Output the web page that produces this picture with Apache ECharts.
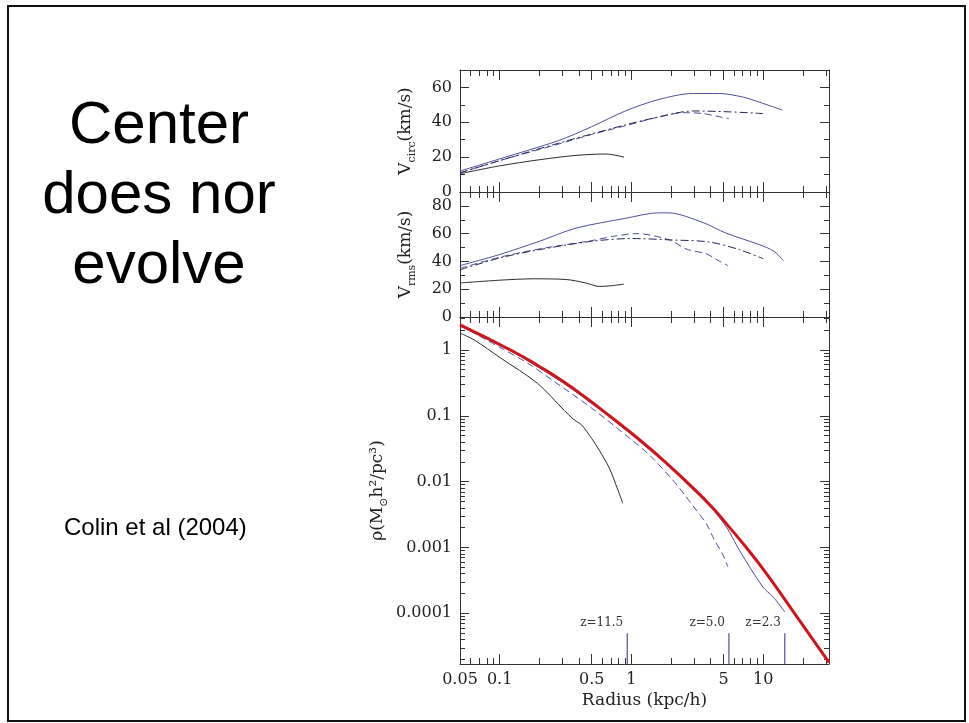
<!DOCTYPE html>
<html>
<head>
<meta charset="utf-8">
<script src="https://cdn.jsdelivr.net/npm/echarts@6/dist/echarts.min.js"></script>
<style>
  html, body { margin: 0; padding: 0; background: #fff; }
  #chart { width: 969px; height: 723px; }
</style>
</head>
<body>
<div id="chart"></div>
<script>
// ---- axes ----
const X_MIN = 0.05;
const X_MAX = 31.62;
const xLabels = [0.05, 0.1, 0.5, 1, 5, 10];
const xMinorTicks = [0.06, 0.07, 0.08, 0.09, 0.2, 0.3, 0.4, 0.6, 0.7, 0.8, 0.9,
  2, 3, 4, 6, 7, 8, 9, 20, 30];

const vcircMax = 70;
const vcircLabels = [0, 20, 40, 60];
const vcircMinor = [10, 30, 50, 70];

const vrmsMax = 90;
const vrmsLabels = [0, 20, 40, 60, 80];
const vrmsMinor = [10, 30, 50, 70, 90];

const RHO_MIN = 1.7e-5;
const RHO_MAX = 3.16;
const rhoLabels = [0.0001, 0.001, 0.01, 0.1, 1];
const rhoDecades = [1e-5, 1e-4, 1e-3, 1e-2, 1e-1, 1];

// ---- circular velocity (km/s) ----
const vcircR_z115 = [0.05, 0.1, 0.2, 0.38, 0.64, 0.88];
const vcirc_z115 = [10.5, 15, 18.5, 21, 21.8, 20];
const vcircR_z50 = [0.05, 0.1, 0.28, 0.5, 0.9, 1.6, 2.5, 3.5, 5.5];
const vcirc_z50 = [11, 18, 27.5, 33, 38, 43, 45.5, 45, 42];
const vcircR_dd = [0.05, 0.1, 0.28, 0.9, 1.6, 2.9, 5.5, 10];
const vcirc_dd = [11, 18, 28, 38.5, 43, 46.5, 46, 45];
const vcircR_z23 = [0.05, 0.1, 0.28, 0.5, 0.9, 1.6, 2.9, 4.7, 7, 9.4, 14];
const vcirc_z23 = [12, 19, 29.5, 37.5, 46.5, 53, 56.5, 56.5, 54.5, 51.5, 47];

// ---- rms velocity (km/s) ----
const vrmsR_z115 = [0.05, 0.1, 0.18, 0.32, 0.45, 0.57, 0.7, 0.88];
const vrms_z115 = [24.5, 26.5, 27.5, 27, 24.5, 22, 22.5, 23.7];
const vrmsR_z50 = [0.05, 0.1, 0.2, 0.5, 0.72, 1.1, 1.95, 2.6, 3.7, 4.7, 5.4];
const vrms_z50 = [35, 43, 49, 55, 58, 60, 55.5, 49, 45.5, 40, 37];
const vrmsR_dd = [0.05, 0.1, 0.2, 0.5, 1, 2, 3.9, 6.6, 10];
const vrms_dd = [34, 42.5, 48.5, 54.5, 56.5, 55.5, 54, 48.5, 42];
const vrmsR_z23 = [0.05, 0.1, 0.2, 0.38, 0.9, 1.6, 1.9, 3.5, 5.2, 9.4, 12, 14.3];
const vrms_z23 = [37, 45, 54.5, 64, 71, 75, 75, 68, 60.5, 52, 47.5, 40.5];

// ---- density (M_sun h^2 / pc^3) ----
const rhoR_z115 = [0.05, 0.064, 0.102, 0.194, 0.31, 0.36, 0.42, 0.5, 0.57, 0.68, 0.78, 0.86];
const rho_z115 = [1.8, 1.42, 0.75, 0.31, 0.12, 0.09, 0.072, 0.045, 0.03, 0.016, 0.008, 0.0047];
const rhoR_z50 = [0.05, 0.1, 0.163, 0.26, 0.52, 1.05, 1.37, 2.06, 2.6, 3.1, 3.7, 4.27, 4.95, 5.4];
const rho_z50 = [2.35, 1.1, 0.63, 0.33, 0.123, 0.04, 0.0254, 0.0106, 0.0059, 0.0037, 0.0023, 0.0013, 0.00077, 0.00051];
const rhoR_z23 = [0.05, 0.124, 0.3, 0.68, 1.2, 2.0, 2.76, 4.0, 5.25, 6.6, 9.96, 11.9, 14.6];
const rho_z23 = [2.3, 0.94, 0.32, 0.097, 0.039, 0.016, 0.0086, 0.0041, 0.00206, 0.00091, 0.00025, 0.000178, 0.000105];
const rhoR_fit = [0.05, 0.124, 0.2, 0.3, 0.47, 0.68, 1.2, 2.0, 2.76, 4.0, 5.25, 7.5, 10.6, 17.3, 31.6];
const rho_fit = [2.4, 0.97, 0.56, 0.336, 0.177, 0.1, 0.0403, 0.0165, 0.009, 0.0043, 0.0023, 0.00098, 0.0004, 0.0001, 0.000018];

// virial radius markers
const zMarkR = [0.93, 5.5, 14.6];
const zMarkLabels = ['z=11.5', 'z=5.0', 'z=2.3'];
const zMarkTop = 5e-5;

// ---- styling ----
const SERIF = '"DejaVu Serif", serif';
const FRAME = '#333333';
const BLUE = '#4d4f9c';
const NAVY = '#25265a';
const BLACK = '#2b2b2b';
const RED = '#d0141c';

const rhoMinor = [];
rhoDecades.forEach(d => { for (let k = 2; k <= 9; k++) rhoMinor.push(+(k * d).toPrecision(3)); });

const fmt = v => String(+(+v).toPrecision(4));
const zip = (xs, ys) => xs.map((x, i) => [x, ys[i]]);

const grids = [
  { left: 460, right: 140, top: 70, height: 122 },
  { left: 460, right: 140, top: 192, height: 125 },
  { left: 460, right: 140, top: 317, height: 347 }
];

function tickAxis(extra, ticks, len, showLine) {
  return Object.assign({
    splitLine: { show: false },
    axisLine: { show: showLine, onZero: false, lineStyle: { color: FRAME, width: 1 } },
    axisTick: { show: true, inside: true, length: len, customValues: ticks, lineStyle: { color: FRAME, width: 1 } },
    axisLabel: { show: false }
  }, extra);
}

const labelStyle = { fontFamily: SERIF, fontSize: 16, color: '#222' };

function xAxesFor(g, withLabels) {
  const base = { type: 'log', logBase: 10, gridIndex: g, min: X_MIN, max: X_MAX };
  const main = tickAxis(Object.assign({ position: 'bottom' }, base), xLabels, 10, true);
  if (withLabels) {
    main.axisLabel = Object.assign({ show: true, customValues: xLabels, margin: 8, formatter: fmt }, labelStyle);
    main.name = 'Radius (kpc/h)';
    main.nameLocation = 'middle';
    main.nameGap = 28;
    main.nameTextStyle = { fontFamily: SERIF, fontSize: 17, color: '#222' };
  }
  return [
    main,
    tickAxis(Object.assign({ position: 'bottom' }, base), xMinorTicks, 6, false),
    tickAxis(Object.assign({ position: 'top' }, base), xLabels, 10, true),
    tickAxis(Object.assign({ position: 'top' }, base), xMinorTicks, 6, false)
  ];
}

const nameRich = {
  m: { fontFamily: SERIF, fontSize: 17, lineHeight: 24, color: '#222' },
  s: { fontFamily: SERIF, fontSize: 11, verticalAlign: 'bottom', color: '#222' }
};

function yAxesFor(g, base, major, minor, name, gap) {
  const main = tickAxis(Object.assign({ position: 'left' }, base, { gridIndex: g }), major, 9, true);
  main.axisLabel = Object.assign({ show: true, customValues: major, margin: 8, formatter: fmt }, labelStyle);
  main.name = name;
  main.nameLocation = 'middle';
  main.nameGap = gap;
  main.nameTextStyle = { rich: nameRich };
  return [
    main,
    tickAxis(Object.assign({ position: 'left' }, base, { gridIndex: g }), minor, 5, false),
    tickAxis(Object.assign({ position: 'right' }, base, { gridIndex: g }), major, 9, true),
    tickAxis(Object.assign({ position: 'right' }, base, { gridIndex: g }), minor, 5, false)
  ];
}

const xAxis = [].concat(xAxesFor(0, false), xAxesFor(1, false), xAxesFor(2, true));
const yAxis = [].concat(
  yAxesFor(0, { type: 'value', min: 0, max: vcircMax }, vcircLabels, vcircMinor, '{m|V}{s|circ}{m|(km/s)}', 42),
  yAxesFor(1, { type: 'value', min: 0, max: vrmsMax }, vrmsLabels, vrmsMinor, '{m|V}{s|rms}{m|(km/s)}', 42),
  yAxesFor(2, { type: 'log', logBase: 10, min: RHO_MIN, max: RHO_MAX }, rhoLabels, rhoMinor, '{m|ρ(M}{s|⊙}{m|h²/pc³)}', 70)
);

function curve(name, g, xs, ys, color, type, width, smooth) {
  return {
    name, type: 'line', xAxisIndex: g * 4, yAxisIndex: g * 4,
    data: zip(xs, ys), showSymbol: false, symbol: 'none', smooth: smooth || 0.3,
    lineStyle: { color, type, width }, z: width > 2 ? 3 : 2
  };
}

const series = [
  curve('z=11.5', 0, vcircR_z115, vcirc_z115, BLACK, 'solid', 1),
  curve('z=5.0', 0, vcircR_z50, vcirc_z50, BLUE, [7, 4], 1),
  curve('dash-dot', 0, vcircR_dd, vcirc_dd, NAVY, [8, 3, 2, 3], 1),
  curve('z=2.3', 0, vcircR_z23, vcirc_z23, BLUE, 'solid', 1),

  curve('z=11.5', 1, vrmsR_z115, vrms_z115, BLACK, 'solid', 1),
  curve('z=5.0', 1, vrmsR_z50, vrms_z50, BLUE, [7, 4], 1),
  curve('dash-dot', 1, vrmsR_dd, vrms_dd, NAVY, [8, 3, 2, 3], 1),
  curve('z=2.3', 1, vrmsR_z23, vrms_z23, BLUE, 'solid', 1),

  curve('z=11.5', 2, rhoR_z115, rho_z115, BLACK, 'solid', 1),
  curve('z=5.0', 2, rhoR_z50, rho_z50, BLUE, [7, 4], 1),
  curve('z=2.3', 2, rhoR_z23, rho_z23, BLUE, 'solid', 1),
  curve('fit', 2, rhoR_fit, rho_fit, RED, 'solid', 3, 0.5),

  {
    name: 'virial', type: 'custom', xAxisIndex: 8, yAxisIndex: 8,
    data: zMarkR.map(r => [r]),
    renderItem(params, api) {
      const r = api.value(0);
      const top = api.coord([r, zMarkTop]);
      const bottom = api.coord([r, RHO_MIN]);
      return {
        type: 'group',
        children: [
          { type: 'line', shape: { x1: top[0], y1: top[1], x2: bottom[0], y2: bottom[1] },
            style: { stroke: BLUE, lineWidth: 1.2 } },
          { type: 'text', x: top[0] - 4, y: top[1] - 4,
            style: { text: zMarkLabels[params.dataIndex], textAlign: 'right', textVerticalAlign: 'bottom',
              font: '12px "DejaVu Serif"', fill: '#333' } }
        ]
      };
    }
  }
];

const chart = echarts.init(document.getElementById('chart'), null, { renderer: 'canvas' });
chart.setOption({
  animation: false,
  backgroundColor: '#ffffff',
  grid: grids.map(g => Object.assign({ outerBoundsMode: 'none' }, g)),
  xAxis,
  yAxis,
  series,
  graphic: [
    { type: 'rect', shape: { x: 8, y: 6, width: 957, height: 715 },
      style: { fill: 'none', stroke: '#111', lineWidth: 2 } },
    { type: 'text', x: 159, y: 196,
      style: { text: 'Center\ndoes nor\nevolve', font: '60px "Liberation Sans", Arial, sans-serif',
        lineHeight: 70, textAlign: 'center', textVerticalAlign: 'middle', fill: '#000' } },
    { type: 'text', x: 64, y: 528,
      style: { text: 'Colin et al (2004)', font: '24px "Liberation Sans", Arial, sans-serif',
        textAlign: 'left', textVerticalAlign: 'middle', fill: '#000' } }
  ]
});
</script>
</body>
</html>
